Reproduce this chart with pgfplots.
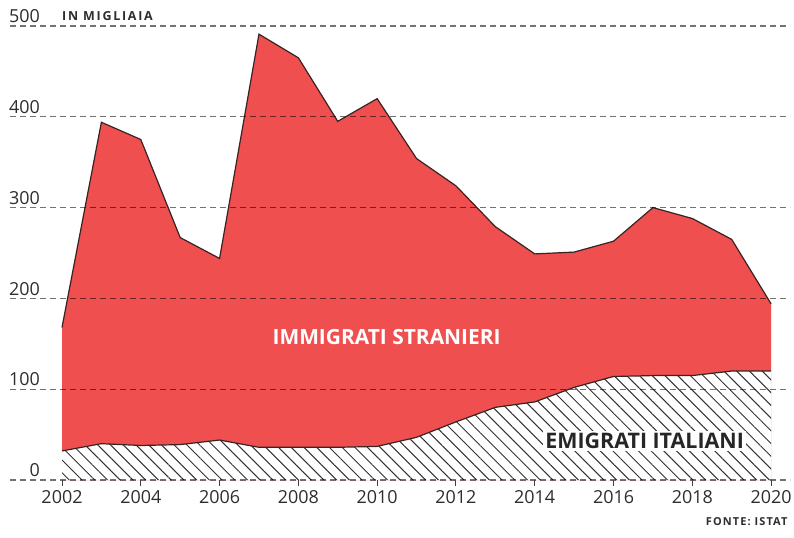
\documentclass[border=0pt]{standalone}
\usepackage{fontspec}
\setmainfont{Open Sans}
\usepackage{pgfplots}
\pgfplotsset{compat=1.18}
\usetikzlibrary{patterns.meta}
\definecolor{redfill}{RGB}{239,79,79}
\definecolor{outl}{RGB}{55,35,35}
\definecolor{txt}{RGB}{45,45,45}
\pgfplotstableread{
year imm emi
2002 168 32
2003 394 40
2004 375 38
2005 267 39
2006 244 44
2007 491 36
2008 465 36
2009 395 36
2010 420 37
2011 354 47
2012 324 64
2013 279 80
2014 249 86
2015 251 102
2016 263 114
2017 300 115
2018 288 115
2019 265 120
2020 194 120
}\datatable
\begin{document}
\begin{tikzpicture}
\path[use as bounding box] (0,0) rectangle (794bp,538bp);
\begin{axis}[
  at={(10bp,58bp)}, anchor=south west,
  scale only axis, width=780bp, height=454bp,
  xmin=2000.68, xmax=2020.48, ymin=0, ymax=500,
  axis line style={draw=none},
  axis on top,
  xtick={2002,2004,...,2020},
  ytick={0,100,...,500},
  xtick pos=bottom, ytick pos=left,
  tick align=outside, major tick length=6bp,
  xtick style={draw=black!75, line width=1bp},
  ytick style={draw=none},
  ymajorgrids,
  grid style={dashed, dash pattern=on 6bp off 4bp, line width=1.1bp, black, opacity=0.55},
  /pgf/number format/assume math mode=true,
  /pgf/number format/1000 sep={},
  ticklabel style={font=\fontsize{18}{21}\selectfont, text=txt},
  xticklabel style={yshift=-1bp},
  yticklabel style={anchor=south east, inner sep=0pt, xshift=36bp, yshift=3bp},
  clip=false,
]
\addplot[fill=redfill, draw=none] table[x=year,y=imm]{\datatable} \closedcycle;
\addplot[fill=white, draw=none] table[x=year,y=emi]{\datatable} \closedcycle;
\addplot[pattern={Lines[angle=-45,distance=9bp,line width=1bp]}, pattern color=black!80, draw=none] table[x=year,y=emi]{\datatable} \closedcycle;
\addplot[draw=outl, line width=1.2bp, mark=none] table[x=year,y=imm]{\datatable};
\addplot[draw=outl, line width=1.2bp, mark=none] table[x=year,y=emi]{\datatable};
\node[anchor=south west, inner sep=0pt, text=txt, font=\fontsize{12.5}{14}\bfseries\addfontfeatures{LetterSpace=14}] at (axis cs:2002,500) [yshift=5bp] {IN MIGLIAIA};
\node[text=white, font=\fontsize{21}{24}\bfseries] at (axis cs:2010.24,157) {IMMIGRATI STRANIERI};
\node[fill=white, text=black!85, inner sep=2bp, font=\fontsize{21.5}{24}\bfseries] at (axis cs:2016.79,43) {EMIGRATI ITALIANI};
\node[anchor=east, inner sep=0pt, text=txt, font=\fontsize{11}{13}\bfseries\addfontfeatures{LetterSpace=10}] at (axis cs:2020.42,-46) {FONTE: ISTAT};
\end{axis}
\end{tikzpicture}
\end{document}
